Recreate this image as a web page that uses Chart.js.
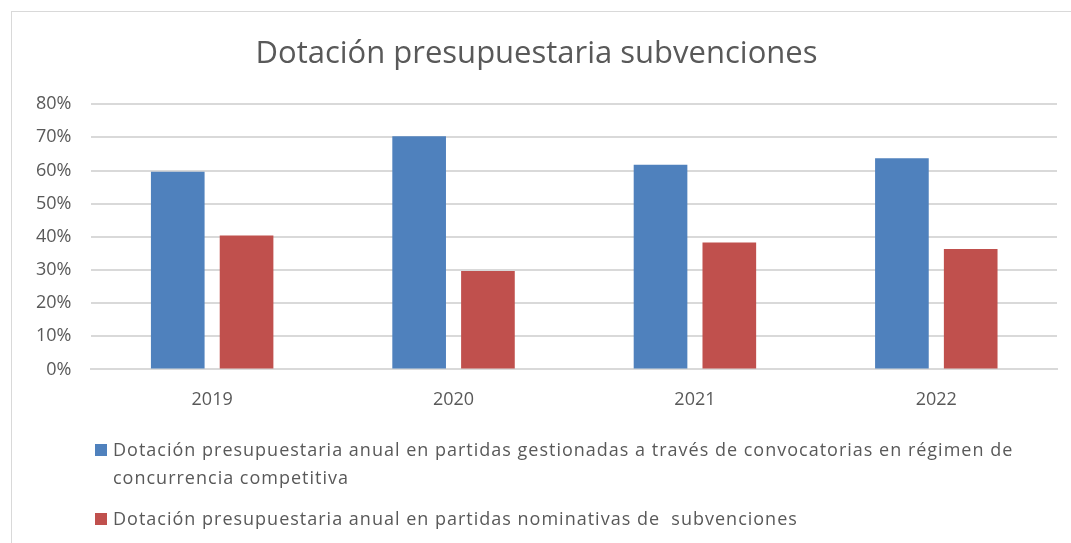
<!DOCTYPE html>
<html>
<head>
<meta charset="utf-8">
<script src="https://cdn.jsdelivr.net/npm/chart.js@4/dist/chart.umd.min.js"></script>
<style>
    body { margin: 0; background: #fff; font-family: "Open Sans", sans-serif; }
    #frame {
        position: absolute; left: 11px; top: 11px; width: 1060px; height: 540px;
        border: 1px solid #d9d9d9; border-right: none; border-bottom: none;
    }
    #chart { position: absolute; left: 0; top: 0; }
    #legend { position: absolute; left: 95px; top: 435px; width: 935px; color: #595959; font-size: 18px; letter-spacing: 1px; }
    #legend .item { display: flex; align-items: flex-start; margin-bottom: 13px; line-height: 28px; }
    #legend .box { flex: none; width: 12px; height: 12px; margin: 9px 6px 0 0; }
</style>
</head>
<body>
<div id="frame"></div>
<canvas id="chart" width="1071" height="440"></canvas>
<div id="legend"></div>
<script>
    // Data
    const years = ['2019', '2020', '2021', '2022'];
    const concurrencia = [59.6, 70.3, 61.7, 63.7];
    const nominativas = [40.4, 29.7, 38.3, 36.3];
    const seriesNames = [
        'Dotación presupuestaria anual en partidas gestionadas a través de convocatorias en régimen de concurrencia competitiva',
        'Dotación presupuestaria anual en partidas nominativas de  subvenciones'
    ];
    const yTicks = [0, 10, 20, 30, 40, 50, 60, 70, 80];

    const colors = ['#4F81BD', '#C0504D'];
    const textColor = '#595959';
    const gridColor = '#d9d9d9';

    const chart = new Chart(document.getElementById('chart'), {
        type: 'bar',
        data: {
            labels: years,
            datasets: [
                { label: seriesNames[0], data: concurrencia, backgroundColor: colors[0] },
                { label: seriesNames[1], data: nominativas, backgroundColor: colors[1] }
            ]
        },
        options: {
            responsive: false,
            animation: false,
            layout: { padding: { left: 16, right: 14, top: 0, bottom: 9 } },
            datasets: { bar: { categoryPercentage: 0.57, barPercentage: 0.78 } },
            scales: {
                x: {
                    grid: { display: false, drawTicks: false },
                    border: { color: gridColor, width: 2 },
                    ticks: { color: textColor, font: { family: 'Open Sans', size: 18 }, padding: 20 }
                },
                y: {
                    min: 0,
                    max: 80,
                    afterBuildTicks: axis => { axis.ticks = yTicks.map(v => ({ value: v })); },
                    grid: { color: gridColor, lineWidth: 2, drawTicks: false },
                    border: { display: false },
                    ticks: {
                        color: textColor,
                        font: { family: 'Open Sans', size: 18 },
                        padding: 20,
                        callback: v => v + '%'
                    }
                }
            },
            plugins: {
                legend: { display: false },
                tooltip: { enabled: false },
                title: {
                    display: true,
                    text: 'Dotación presupuestaria subvenciones',
                    color: textColor,
                    font: { family: 'Open Sans', size: 31, weight: 'normal' },
                    padding: { top: 36, bottom: 31 }
                }
            }
        }
    });

    // HTML legend (text wraps like the original)
    const legendEl = document.getElementById('legend');
    chart.data.datasets.forEach(ds => {
        const item = document.createElement('div');
        item.className = 'item';
        item.innerHTML = `<span class="box" style="background:${ds.backgroundColor}"></span><span style="white-space:pre-wrap">${ds.label}</span>`;
        legendEl.appendChild(item);
    });
</script>
</body>
</html>
